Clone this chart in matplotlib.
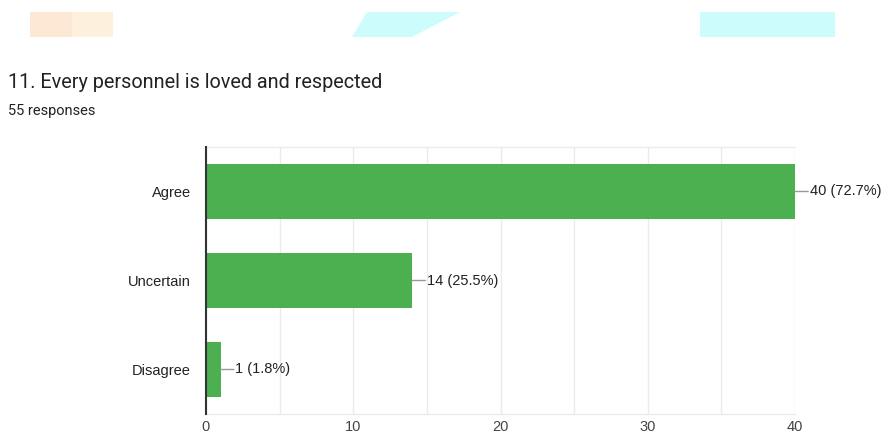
import matplotlib
matplotlib.use("Agg")
import matplotlib.pyplot as plt
from matplotlib.patches import Rectangle, Polygon

categories = ["Agree", "Uncertain", "Disagree"]
counts = [40, 14, 1]
labels = ["40 (72.7%)", "14 (25.5%)", "1 (1.8%)"]
xticks = [0, 10, 20, 30, 40]
title = "11. Every personnel is loved and respected"
subtitle = "55 responses"

plt.rcParams['font.family'] = ['Roboto', 'DejaVu Sans']
ARIAL = ['Liberation Sans', 'DejaVu Sans']

W, H = 882, 436
fig = plt.figure(figsize=(W / 100, H / 100), dpi=100)

# decorative header blocks
fig.patches.append(Rectangle((30 / W, 1 - 37 / H), 42 / W, 25 / H, transform=fig.transFigure,
                             color="#fde8d6", lw=0))
fig.patches.append(Rectangle((72 / W, 1 - 37 / H), 41 / W, 25 / H, transform=fig.transFigure,
                             color="#fdf0dc", lw=0))
fig.patches.append(Polygon([(352 / W, 1 - 37 / H), (367 / W, 1 - 12 / H), (460 / W, 1 - 12 / H),
                            (412 / W, 1 - 37 / H)], closed=True, transform=fig.transFigure,
                           color="#cdfcfc", lw=0))
fig.patches.append(Rectangle((700 / W, 1 - 37 / H), 135 / W, 25 / H, transform=fig.transFigure,
                             color="#cdfcfc", lw=0))

fig.text(8 / W, 1 - 83 / H, title, fontsize=14.3, color="#222222", va="center", ha="left")
fig.text(8 / W, 1 - 111 / H, subtitle, fontsize=10.5, color="#222222", va="center", ha="left")

ax = fig.add_axes([206 / W, 1 - 414 / H, 589 / W, 267 / H])
y = list(range(len(categories)))
ax.barh(y, counts, height=0.61, color="#4caf50", zorder=3)
ax.set_ylim(2.5, -0.5)
ax.set_xlim(0, 40)
ax.set_yticks(y)
ax.set_yticklabels(categories, fontsize=10.5, color="#222222", family=ARIAL)
ax.set_xticks(xticks)
ax.set_xticklabels([str(t) for t in xticks], fontsize=10.5, color="#444444", family=ARIAL)
ax.set_xticks(range(0, 41, 5), minor=True)
ax.tick_params(axis="both", length=0, which="both")
ax.tick_params(axis="y", pad=11)
ax.tick_params(axis="x", pad=4)
ax.grid(axis="x", which="both", color="#ebebeb", lw=1, zorder=0)
for s in ["top", "bottom", "right"]:
    ax.spines[s].set_color("#ebebeb")
    ax.spines[s].set_linewidth(1)
ax.spines["right"].set_visible(False)
ax.spines["left"].set_color("#333333")
ax.spines["left"].set_linewidth(1.5)
ax.spines["left"].set_zorder(4)

for yi, c, lab in zip(y, counts, labels):
    ax.annotate("", xy=(c, yi), xytext=(9.5, 0), textcoords="offset points",
                arrowprops=dict(arrowstyle="-", color="#999999", lw=1, shrinkA=0, shrinkB=0),
                annotation_clip=False)
    ax.annotate(lab, xy=(c, yi), xytext=(10.5, 0), textcoords="offset points",
                fontsize=10.5, color="#222222", va="center", ha="left", family=ARIAL,
                annotation_clip=False)

fig.savefig("out.png", dpi=100)
